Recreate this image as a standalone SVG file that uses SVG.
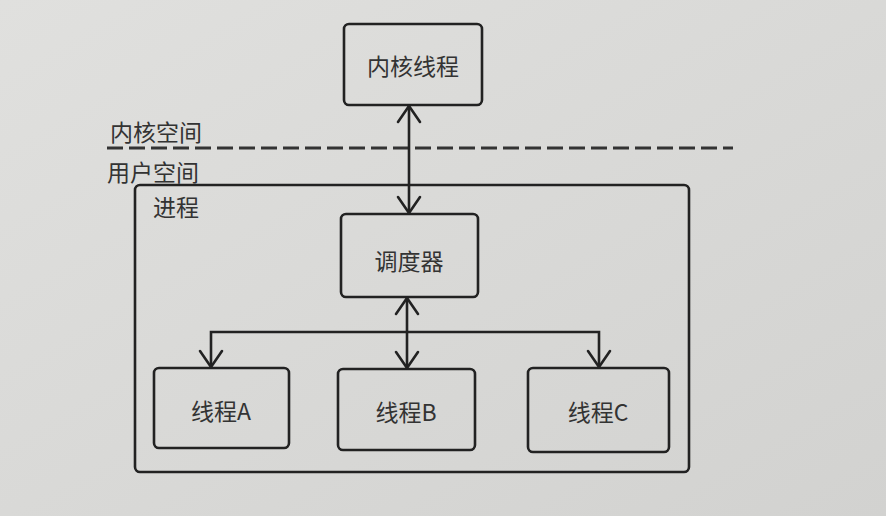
<svg xmlns="http://www.w3.org/2000/svg" width="886" height="516" viewBox="0 0 886 516">
<defs>
<linearGradient id="bg" x1="0" y1="0" x2="1" y2="1">
<stop offset="0" stop-color="#e0e0de"/>
<stop offset="1" stop-color="#d2d2d0"/>
</linearGradient>
<marker id="arr" viewBox="-20 -14 24 28" markerUnits="userSpaceOnUse" markerWidth="24" markerHeight="28" refX="0" refY="0" orient="auto-start-reverse">
<path d="M-16,-11 L0,0 L-16,11" fill="none" stroke="#222" stroke-width="2.6" stroke-linecap="round" stroke-linejoin="round"/>
</marker>
<style>
.box{fill:none;stroke:#222;stroke-width:2.6}
.lbl{font-family:"Noto Sans CJK SC","Noto Sans",sans-serif;font-size:23px;fill:#333}
.ctr{text-anchor:middle;dominant-baseline:central}
.con{fill:none;stroke:#222;stroke-width:2.6}
</style>
</defs>
<rect width="886" height="516" fill="url(#bg)"/>
<line x1="107" y1="148" x2="733" y2="148" stroke="#333" stroke-width="2.8" stroke-dasharray="16 6"/>
<text class="lbl" x="110" y="141">内核空间</text>
<text class="lbl" x="107" y="181">用户空间</text>
<g id="process">
<rect class="box" x="135" y="185" width="554" height="287" rx="5"/>
<text class="lbl" x="153" y="216">进程</text>
</g>
<g id="kernel-thread">
<rect class="box" x="344" y="24" width="138" height="81" rx="5"/>
<text class="lbl ctr" x="413" y="65">内核线程</text>
</g>
<g id="scheduler">
<rect class="box" x="341" y="214" width="137" height="83" rx="5"/>
<text class="lbl ctr" x="409" y="260">调度器</text>
</g>
<g id="thread-a">
<rect class="box" x="154" y="368" width="135" height="80" rx="5"/>
<text class="lbl ctr" x="221" y="410">线程A</text>
</g>
<g id="thread-b">
<rect class="box" x="338" y="369" width="137" height="81" rx="5"/>
<text class="lbl ctr" x="406" y="411">线程B</text>
</g>
<g id="thread-c">
<rect class="box" x="528" y="368" width="141" height="84" rx="5"/>
<text class="lbl ctr" x="598" y="411">线程C</text>
</g>
<g id="connectors">
<line class="con" x1="409" y1="106" x2="409" y2="213" marker-start="url(#arr)" marker-end="url(#arr)"/>
<line class="con" x1="407" y1="298" x2="407" y2="368" marker-start="url(#arr)" marker-end="url(#arr)"/>
<path class="con" d="M211,367 V332 H599 V367" marker-start="url(#arr)" marker-end="url(#arr)"/>
</g>
</svg>
